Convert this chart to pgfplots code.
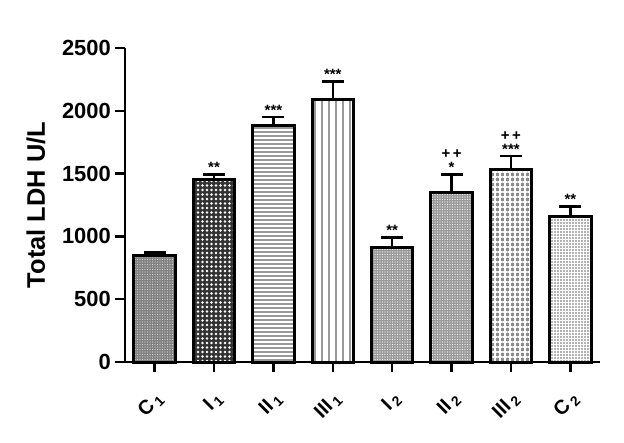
\documentclass[border=0pt]{standalone}
\usepackage{pgfplots}
\pgfplotsset{compat=1.18}
\usepackage{fontspec}
\setmainfont{Liberation Sans}
\usetikzlibrary{patterns.meta}
\newcommand{\sub}[1]{\hspace{3bp}\textsubscript{#1}}
\begin{document}
\begin{tikzpicture}
\begin{axis}[
  scale only axis, width=475bp, height=314bp,
  xmin=-0.5, xmax=7.5, ymin=0, ymax=2500,
  axis lines=left, axis line style={line width=2.5bp, -},
  ybar, bar width=0.7, bar shift=0pt,
  ytick={0,500,1000,1500,2000,2500},
  xtick={0,...,7},
  xticklabels={C\sub{1},I\sub{1},II\sub{1},III\sub{1},I\sub{2},II\sub{2},III\sub{2},C\sub{2}},
  tick align=outside, major tick length=10bp,
  tick style={line width=2.5bp, black},
  /pgf/number format/assume math mode=true,
  /pgf/number format/1000 sep={},
  yticklabel style={font=\bfseries\fontsize{22}{22}\selectfont, inner sep=1bp, xshift=-3bp},
  xticklabel style={font=\bfseries\fontsize{20}{20}\selectfont, rotate=45, anchor=north east, inner sep=1bp, xshift=-12bp, yshift=-11bp},
  ylabel={\bfseries Total LDH U/L},
  every axis y label/.style={at={(axis description cs:0,0.5)}, xshift=-89bp, rotate=90, anchor=center, font=\fontsize{25.5}{25.5}\selectfont},
  error bars/y dir=plus, error bars/y explicit,
  error bars/error bar style={line width=2.5bp, black},
  error bars/error mark options={line width=2.8bp, black, mark size=11bp, rotate=90},
  clip=false,
]
% C1
\addplot[draw=black, line width=3bp, fill=black!50, postaction={pattern={Dots[distance=2.5bp, radius=0.65bp]}, pattern color=white!85!black}]
  coordinates {(0,850) +- (0,22)};
% I1
\addplot[draw=black, line width=3bp, fill=black!80, postaction={pattern={Dots[distance=4.5bp, radius=1.3bp]}, pattern color=white}]
  coordinates {(1,1450) +- (0,40)};
% II1
\addplot[draw=black, line width=3bp, fill=black!40, postaction={pattern={Lines[angle=0, distance=4bp, line width=1.8bp]}, pattern color=white}]
  coordinates {(2,1880) +- (0,70)};
% III1
\addplot[draw=black, line width=3bp, fill=white, postaction={pattern={Lines[angle=90, distance=7bp, line width=2.5bp]}, pattern color=black!40}]
  coordinates {(3,2090) +- (0,145)};
% I2
\addplot[draw=black, line width=3bp, fill=black!40, postaction={pattern={Dots[distance=2.5bp, radius=0.65bp]}, pattern color=white}]
  coordinates {(4,910) +- (0,80)};
% II2
\addplot[draw=black, line width=3bp, fill=black!40, postaction={pattern={Dots[distance=2.5bp, radius=0.65bp]}, pattern color=white}]
  coordinates {(5,1350) +- (0,140)};
% III2
\addplot[draw=black, line width=3bp, fill=black!45, postaction={pattern={Hatch[angle=0, distance=5bp, line width=1.3bp]}, pattern color=white}]
  coordinates {(6,1530) +- (0,110)};
% C2
\addplot[draw=black, line width=3bp, fill=white, postaction={pattern={Dots[distance=3bp, radius=0.8bp]}, pattern color=black!60}]
  coordinates {(7,1160) +- (0,75)};
% significance marks, first row
\addplot[sharp plot, draw=none, mark=none, nodes near coords, point meta=explicit symbolic,
  every node near coord/.style={anchor=base, yshift=2bp, font=\bfseries\fontsize{15}{15}\selectfont, inner sep=0pt, black}]
  table[meta=lab] {
x y lab
1 1490 **
2 1950 ***
3 2235 ***
4 990 **
5 1490 *
6 1640 ***
7 1235 **
};
% significance marks, second row
\addplot[sharp plot, draw=none, mark=none, nodes near coords, point meta=explicit symbolic,
  every node near coord/.style={anchor=base, yshift=16bp, font=\bfseries\fontsize{15}{15}\selectfont, inner sep=0pt, black}]
  table[meta=lab] {
x y lab
5 1490 {+\,+}
6 1640 {+\,+}
};
\end{axis}
\path ([shift={(-125bp,-80bp)}]current axis.south west) rectangle ([shift={(24bp,48bp)}]current axis.north east);
\end{tikzpicture}
\end{document}
